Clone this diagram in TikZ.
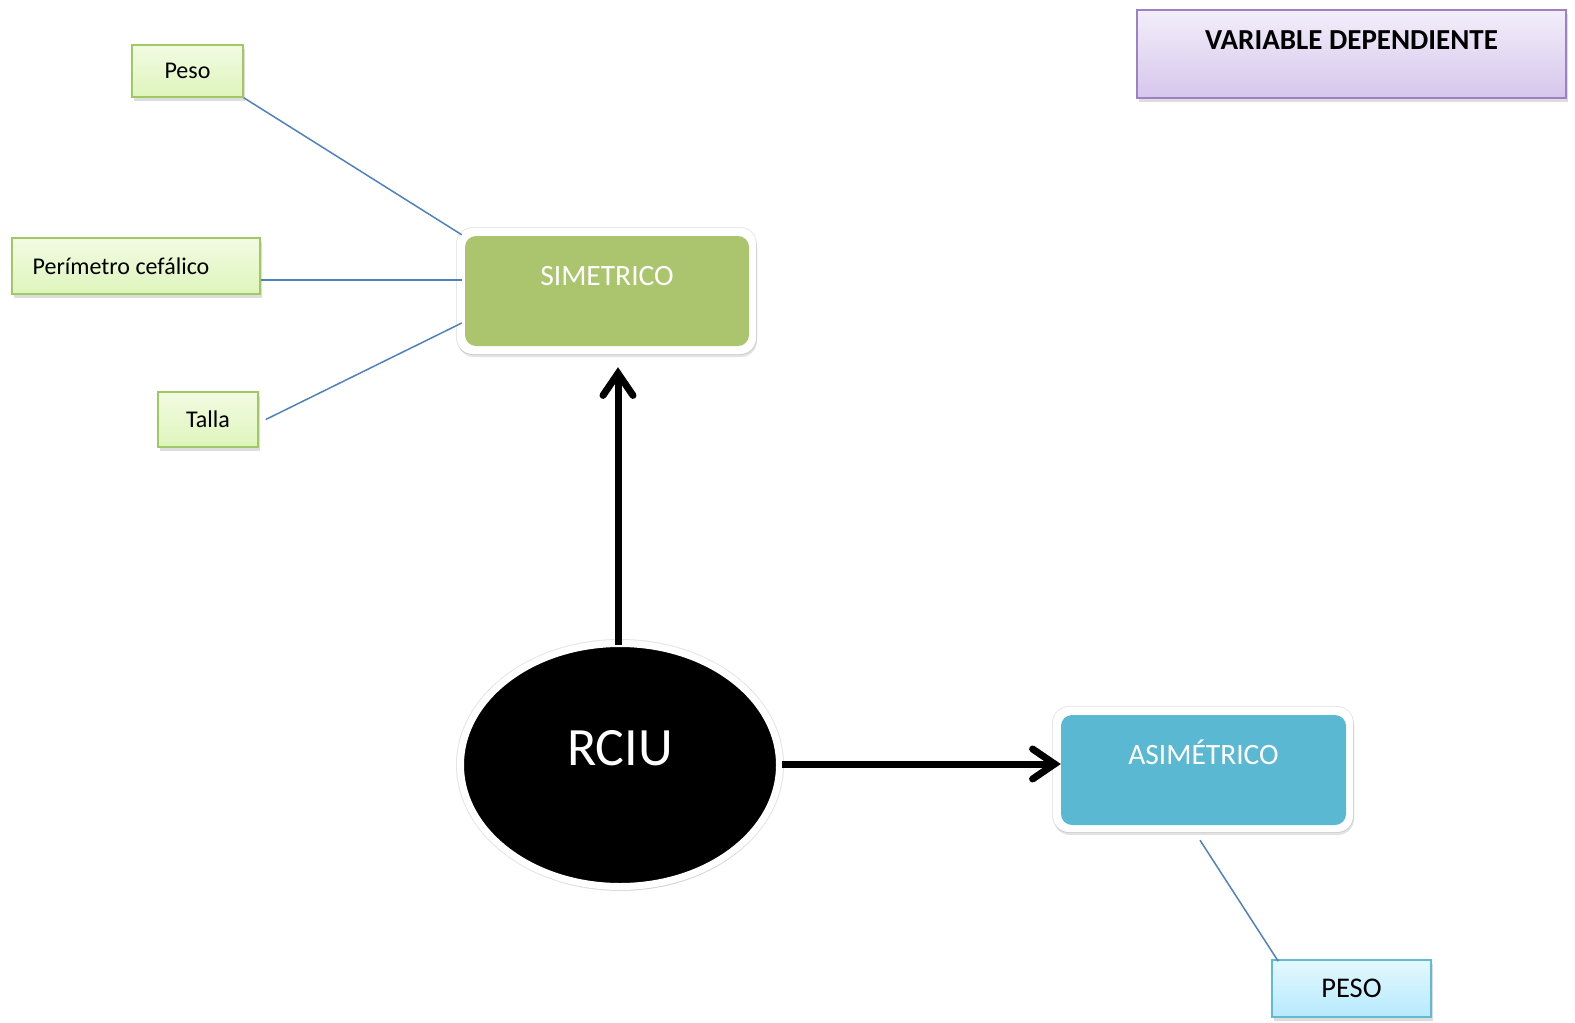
\documentclass[tikz,border=0pt]{standalone}
\usepackage{fontspec}
\setmainfont{Carlito}
\usetikzlibrary{shapes.geometric,arrows.meta,shadows,calc}

\definecolor{simgreen}{RGB}{171,197,110}
\definecolor{asiblue}{RGB}{91,184,210}
\definecolor{linkblue}{RGB}{79,129,189}
\definecolor{leafgreenT}{RGB}{242,251,226}
\definecolor{leafgreenB}{RGB}{222,245,188}
\definecolor{leafgreenD}{RGB}{160,200,100}
\definecolor{leafcyanT}{RGB}{228,248,255}
\definecolor{leafcyanB}{RGB}{182,234,252}
\definecolor{leafcyanD}{RGB}{96,186,212}
\definecolor{titleT}{RGB}{242,238,250}
\definecolor{titleB}{RGB}{214,198,236}
\definecolor{titleD}{RGB}{160,128,196}

\tikzset{
  softshadow/.style={drop shadow={shadow xshift=2pt,shadow yshift=-4pt,opacity=0.22,fill=black!60}},
  leafgreen/.style={draw=leafgreenD,line width=1.5pt,top color=leafgreenT,bottom color=leafgreenB,
    font=\fontsize{24}{28}\selectfont,inner sep=0pt,softshadow},
  leafcyan/.style={draw=leafcyanD,line width=1.5pt,top color=leafcyanT,bottom color=leafcyanB,
    font=\fontsize{28.5}{33}\selectfont,inner sep=0pt,softshadow},
  titlebox/.style={draw=titleD,line width=1.5pt,top color=titleT,bottom color=titleB,
    font=\fontsize{29}{34}\bfseries\selectfont,inner sep=0pt,softshadow},
  frame/.style={fill=white,rounded corners=16pt,inner sep=0pt,
    preaction={draw=black!9,line width=2pt},
    drop shadow={shadow xshift=1pt,shadow yshift=-3pt,opacity=0.18,fill=black!60}},
  typebox/.style={rounded corners=11pt,inner xsep=0pt,inner ysep=0pt,text=white,
    font=\fontsize{29.5}{34}\selectfont},
  link/.style={draw=linkblue,line width=1.5pt},
  bigarrow/.style={line width=7pt,
    -{Straight Barb[length=22pt,width=30pt,line width=7pt,line cap=round]}},
}

\begin{document}
\begin{tikzpicture}[x=1pt,y=-1pt]
\useasboundingbox (0,0) rectangle (1575,1023);

% heading
\node[titlebox,minimum width=429,minimum height=88,text height=39,text depth=49] (title)
  at (1351.5,54) {VARIABLE DEPENDIENTE};

% central ellipse
\node[ellipse,draw=white,line width=7pt,fill=black,minimum width=319,minimum height=243,
  inner sep=0pt,text=white,font=\fontsize{54}{62}\selectfont,text height=20,text depth=20,
  preaction={draw=black!10,line width=9pt},
  drop shadow={shadow xshift=1pt,shadow yshift=-4pt,opacity=0.2,fill=black!60}] (rciu)
  at (620,765) {RCIU};

% symmetric type
\node[frame,minimum width=299,minimum height=126] (simF) at (606.5,291) {};
\node[typebox,fill=simgreen,minimum width=284,text height=49,text depth=61] (sim)
  at (607,291) {SIMETRICO};

% asymmetric type
\node[frame,minimum width=300,minimum height=125] (asiF) at (1203,769.5) {};
\node[typebox,fill=asiblue,minimum width=285,text height=49,text depth=61] (asi)
  at (1203.5,770) {ASIMÉTRICO};

% measurement boxes
\node[leafgreen,minimum width=111,minimum height=52] (peso) at (187.5,71) {Peso};
\node[leafgreen,minimum width=248,minimum height=56] (per)
  at (136,266) {Perímetro cefálico\hspace*{30pt}};
\node[leafgreen,minimum width=100,minimum height=55] (talla) at (208,419.5) {Talla};
\node[leafcyan,minimum width=159,minimum height=57] (peso2) at (1351.5,988.5) {PESO};

% connectors
\draw[link] (peso.south east) -- ($(simF.north west)+(5,7)$);
\draw[link] ($(per.east)+(0,14)$) -- ($(simF.west)+(5,-11)$);
\draw[link] ($(talla.east)+(7,0)$) -- ($(simF.west)+(5,32)$);
\draw[link] ($(asiF.south)+(-3,8)$) -- ($(peso2.north west)+(7,2)$);

\draw[bigarrow] ($(rciu.north)+(-2,5)$) -- ($(simF.south)+(11.5,13)$);
\draw[bigarrow] ($(rciu.east)+(-1,-1)$) -- ($(rciu.east -| asiF.west)+(8,-1)$);
\end{tikzpicture}
\end{document}
